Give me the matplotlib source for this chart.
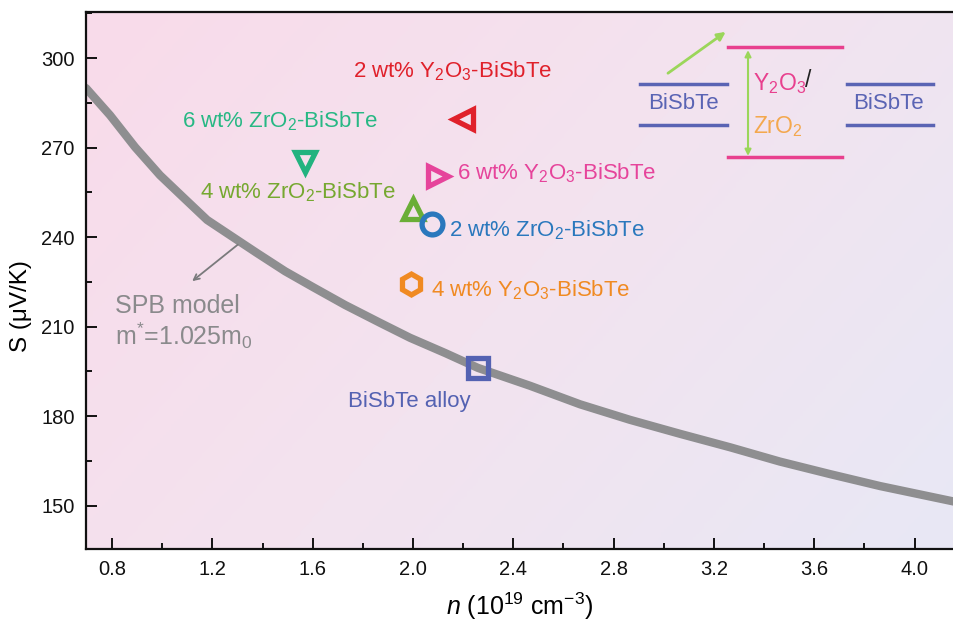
import numpy as np
import matplotlib
matplotlib.use("Agg")
import matplotlib.pyplot as plt
from matplotlib.colors import LinearSegmentedColormap
from matplotlib.ticker import MultipleLocator

plt.rcParams['font.family'] = ['Liberation Sans', 'DejaVu Sans']
plt.rcParams['mathtext.fontset'] = 'custom'
plt.rcParams['mathtext.rm'] = 'Liberation Sans'
plt.rcParams['mathtext.it'] = 'Liberation Sans:italic'

# SPB model curve (carrier concentration, Seebeck coefficient)
spb_n = [0.696, 0.792, 0.892, 0.991, 1.091, 1.179, 1.290, 1.378, 1.490, 1.601,
         1.729, 1.869, 1.988, 2.128, 2.259, 2.467, 2.666, 2.865, 3.065, 3.264,
         3.463, 3.663, 3.862, 4.157]
spb_S = [290.0, 280.9, 270.2, 260.8, 252.8, 245.8, 239.6, 234.7, 228.6, 223.3,
         217.3, 211.3, 206.3, 201.2, 196.2, 190.2, 184.0, 178.8, 174.1, 169.6,
         164.8, 160.6, 156.6, 151.4]

# measured samples
samples = ["2 wt% Y$_2$O$_3$-BiSbTe", "6 wt% ZrO$_2$-BiSbTe", "6 wt% Y$_2$O$_3$-BiSbTe",
           "4 wt% ZrO$_2$-BiSbTe", "2 wt% ZrO$_2$-BiSbTe", "4 wt% Y$_2$O$_3$-BiSbTe",
           "BiSbTe alloy"]
sample_n = [2.20, 1.57, 2.10, 2.00, 2.076, 1.992, 2.259]
sample_S = [279.6, 265.2, 260.5, 249.4, 244.4, 224.3, 196.2]
markers = ['<', 'v', '>', '^', 'o', 'h', 's']
colors = ['#e0212b', '#22b37f', '#e6449b', '#6aae37', '#2a78bd', '#f08a22', '#5462b2']
label_colors = ['#e0212b', '#27b884', '#e6449b', '#76a830', '#2a78bd', '#f08a22', '#5462b2']

fig = plt.figure(figsize=(9.54, 6.25), dpi=100)
ax = fig.add_axes([0.0901, 0.1216, 0.9099, 0.8592])
ax.set_xlim(0.696, 4.157)
ax.set_ylim(135.5, 315.5)

# diagonal pink-to-lavender background (row 0 = top of axes)
cmap = LinearSegmentedColormap.from_list('bg', ['#f9dbea', '#f3e3ef', '#e8e8f5'])
gx, gy = np.meshgrid(np.linspace(0, 1, 300), np.linspace(0, 1, 200))
grad = 0.65 * gx + 0.35 * gy
ax.imshow(grad, cmap=cmap, extent=[0, 1, 0, 1], origin='upper', transform=ax.transAxes,
          aspect='auto', zorder=0, interpolation='bilinear')

ax.plot(spb_n, spb_S, color='#8e8e90', lw=6, solid_capstyle='round',
        solid_joinstyle='round', zorder=2)

for n, s, m, c in zip(sample_n, sample_S, markers, colors):
    ax.plot([n], [s], marker=m, ms=15, mew=3.8, mfc='none', mec=c, ls='none', zorder=4)

fs = 16
ax.text(2.16, 295.5, samples[0], color=label_colors[0], fontsize=fs, ha='center', va='center')
ax.text(1.47, 278.8, samples[1], color=label_colors[1], fontsize=fs, ha='center', va='center')
ax.text(2.175, 261.5, samples[2], color=label_colors[2], fontsize=fs, ha='left', va='center')
ax.text(1.54, 255.2, samples[3], color=label_colors[3], fontsize=fs, ha='center', va='center')
ax.text(2.144, 242.3, samples[4], color=label_colors[4], fontsize=fs, ha='left', va='center')
ax.text(2.072, 222.1, samples[5], color=label_colors[5], fontsize=fs, ha='left', va='center')
ax.text(1.985, 184.9, samples[6], color=label_colors[6], fontsize=fs, ha='center', va='center')

ax.text(0.81, 217.0, "SPB model", color='#8a8a8c', fontsize=18, ha='left', va='center')
ax.text(0.81, 207.0, "m$^{*}$=1.025m$_0$", color='#8a8a8c', fontsize=18, ha='left', va='center')
ax.annotate("", xy=(1.111, 224.7), xytext=(1.310, 238.1),
            arrowprops=dict(arrowstyle='->', color='#7a7a7c', lw=1.3))

# band-offset sketch in the upper right
T = ax.transAxes
pink, blue = '#e8408e', '#5a64b4'
for y in (0.935, 0.730):
    ax.plot([0.7396, 0.871], [y, y], color=pink, lw=2.5, transform=T, zorder=3)
for y in (0.866, 0.7896):
    ax.plot([0.638, 0.7385], [y, y], color=blue, lw=2.5, transform=T, zorder=3)
    ax.plot([0.8767, 0.9758], [y, y], color=blue, lw=2.5, transform=T, zorder=3)
ax.text(0.6885, 0.8305, "BiSbTe", color=blue, fontsize=16, ha='center', va='center', transform=T)
ax.text(0.925, 0.8305, "BiSbTe", color=blue, fontsize=16, ha='center', va='center', transform=T)
ax.annotate("", xy=(0.7627, 0.929), xytext=(0.7627, 0.732), xycoords=T, textcoords=T,
            arrowprops=dict(arrowstyle='<|-|>', color='#9bd65a', lw=1.5, mutation_scale=9,
                            shrinkA=0, shrinkB=0))
ax.annotate("", xy=(0.737, 0.963), xytext=(0.6705, 0.886), xycoords=T, textcoords=T,
            arrowprops=dict(arrowstyle='-|>', color='#9bd65a', lw=2, mutation_scale=12,
                            shrinkA=0, shrinkB=0))
ax.text(0.768, 0.866, "Y$_2$O$_3$", color=pink, fontsize=16.5, ha='left', va='center',
        transform=T)
ax.text(0.8285, 0.873, "/", color='#222222', fontsize=16.5, ha='left', va='center', transform=T)
ax.text(0.768, 0.787, "ZrO$_2$", color='#f4a84e', fontsize=16.5, ha='left', va='center',
        transform=T)

# axes styling
ax.spines['right'].set_visible(False)
for sp in ('left', 'bottom', 'top'):
    ax.spines[sp].set_linewidth(1.6)
    ax.spines[sp].set_color('#111111')
ax.xaxis.set_minor_locator(MultipleLocator(0.2))
ax.yaxis.set_minor_locator(MultipleLocator(15))
xt = np.arange(0.8, 4.01, 0.4)
ax.set_xticks(xt)
ax.set_xticklabels([f"{v:.1f}" for v in xt])
ax.set_yticks(np.arange(150, 301, 30))
ax.tick_params(which='both', direction='in', top=False, right=False, width=1.4, colors='#111111')
ax.tick_params(which='major', length=8, labelsize=14.5, pad=8)
ax.tick_params(which='minor', length=4)
ax.set_xlabel("$\\mathit{n}$ (10$^{19}$ cm$^{-3}$)", fontsize=18, labelpad=8)
ax.set_ylabel("S (\u03bcV/K)", fontsize=17.5)
ax.yaxis.set_label_coords(-0.062, 0.452)

fig.savefig("out.png", dpi=100)
